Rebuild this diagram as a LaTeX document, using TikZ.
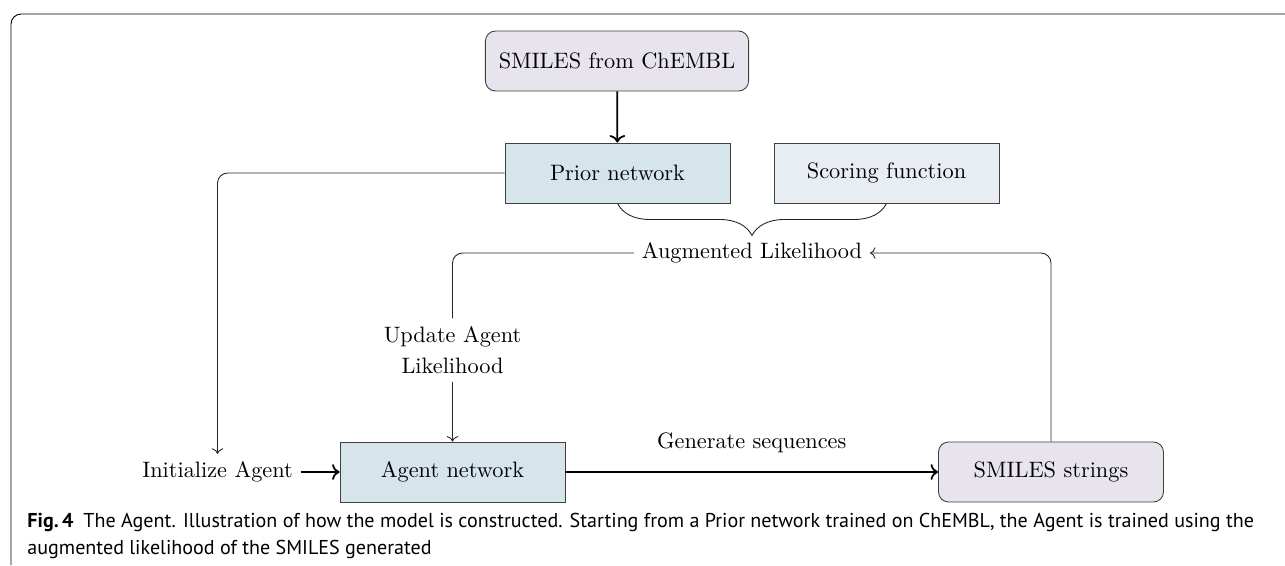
\documentclass[tikz,border=0pt]{standalone}
\usepackage{fontspec}
\newfontfamily\captionfont{PT Sans}
\usepackage{xcolor}
\usepackage{tikz}
\usetikzlibrary{arrows.meta,decorations.pathreplacing}

\definecolor{smilesfill}{HTML}{E8E4EE}
\definecolor{netfill}{HTML}{D6E4EC}
\definecolor{scorefill}{HTML}{E8EDF3}
\definecolor{boxline}{HTML}{404040}

\tikzset{
  netbox/.style={draw=boxline,fill=netfill,minimum width=100.9pt,minimum height=26.9pt},
  scorebox/.style={netbox,fill=scorefill},
  smilesbox/.style={netbox,fill=smilesfill,rounded corners=4.5pt,inner xsep=6pt},
  link/.style={thin,draw=black!85},
  flow/.style={thick,->}
}

\begin{document}
\begin{tikzpicture}[x=0.4485pt,y=-0.4485pt]
\useasboundingbox (0,0) rectangle (1285,565);
% Frame of the figure
\draw[thin,rounded corners=4.5pt] (11,565) -- (11,14) -- (1285,14);

% Boxes
\node[smilesbox] (chembl) at (617,61) {SMILES from ChEMBL};
\node[netbox] (prior) at (617.5,173) {Prior network};
\node[scorebox] (score) at (886.5,173) {Scoring function};
\node[netbox] (agent) at (452.5,472) {Agent network};
\node[smilesbox] (strings) at (1051,472) {SMILES strings};

% Free labels
\node (aug) at (752,253) {Augmented Likelihood};
\node[align=center] (update) at (452.5,350) {Update Agent\\[2pt] Likelihood};
\node (init) at (217.5,472) {Initialize Agent};

% Connectors
\draw[flow] (chembl) -- (prior);
\draw[link,decorate,decoration={brace,mirror,amplitude=14.4pt}] (prior.south) -- (score.south);
\draw[link,->,rounded corners=4.5pt] (prior.west) -| (init.north);
\draw[link,->,rounded corners=4.5pt] (strings.north) |- (aug.east);
\draw[link,rounded corners=4.5pt] (aug.west) -| (update.north);
\draw[link,->] (update.south) -- (agent.north);
\draw[flow] (init) -- (agent);
\draw[flow] (agent) -- node[above=5pt] {Generate sequences} (strings);

% Caption
\node[anchor=base west,inner sep=0,font=\captionfont\fontsize{9}{12}\selectfont] (caption1) at (27,527)
  {\textbf{Fig.\,4}\enspace The Agent. Illustration of how the model is constructed. Starting from a Prior network trained on ChEMBL, the Agent is trained using the};
\node[anchor=base west,inner sep=0,font=\captionfont\fontsize{9}{12}\selectfont] (caption2) at (27,554)
  {augmented likelihood of the SMILES generated};
\end{tikzpicture}
\end{document}
